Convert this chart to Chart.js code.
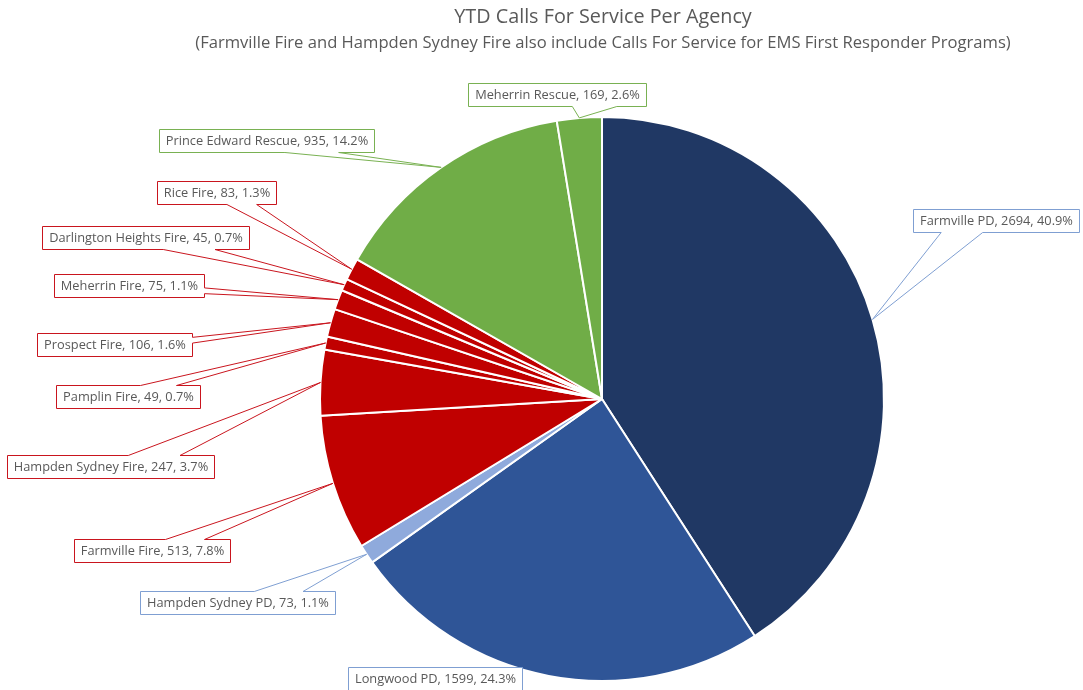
<!DOCTYPE html>
<html><head><meta charset="utf-8">
<script src="https://cdn.jsdelivr.net/npm/chart.js@4.4.1/dist/chart.umd.min.js"></script>
<style>html,body{margin:0;padding:0;background:#fff}#wrap{width:1083px;height:690px;position:relative}</style>
</head><body><div id="wrap"><canvas id="c" width="1083" height="690"></canvas></div>
<script>
// ---- data ----
const agencies = ["Farmville PD","Longwood PD","Hampden Sydney PD","Farmville Fire","Hampden Sydney Fire","Pamplin Fire","Prospect Fire","Meherrin Fire","Darlington Heights Fire","Rice Fire","Prince Edward Rescue","Meherrin Rescue"];
const calls = [2694,1599,73,513,247,49,106,75,45,83,935,169];
const groups = ["pd","pd","pd","fire","fire","fire","fire","fire","fire","fire","rescue","rescue"];
const titleText = "YTD Calls For Service Per Agency";
const subtitleText = "(Farmville Fire and Hampden Sydney Fire also include Calls For Service for EMS First Responder Programs)";

// ---- styles / layout ----
const sliceColors = ["#203864","#2F5597","#8FAADC","#C00000","#C00000","#C00000","#C00000","#C00000","#C00000","#C00000","#70AD47","#70AD47"];
const boxBorder = {pd:"#7F9FD2", fire:"#C9151E", rescue:"#79B152"};
const boxCenters = [[996,220],[435,678],[237,602],[152,550],[110,466],[128,396],[114,344],[129,285],[145,237],[216,192],[266,140],[557,94]];
const showWedge = [true,false,true,true,true,true,true,true,true,true,true,true];
const FONT = "'Open Sans', 'Noto Sans', sans-serif";
const textColor = "#595959";

const total = calls.reduce((a,b)=>a+b,0);

const calloutPlugin = {
  id: 'callouts',
  afterDraw(chart){
    const ctx = chart.ctx;
    ctx.save();
    // titles
    ctx.fillStyle = textColor;
    ctx.textAlign = 'center';
    ctx.textBaseline = 'middle';
    ctx.font = "19.8px " + FONT;
    ctx.fillText(titleText, 603, 17);
    ctx.font = "16.6px " + FONT;
    ctx.fillText(subtitleText, 603, 43);

    const meta = chart.getDatasetMeta(0);
    ctx.font = "12.8px " + FONT;
    ctx.lineWidth = 1;
    meta.data.forEach((arc, i) => {
      const p = arc.getProps(['x','y','startAngle','endAngle','outerRadius'], true);
      const a = (p.startAngle + p.endAngle)/2;
      const ax = p.x + Math.cos(a)*p.outerRadius, ay = p.y + Math.sin(a)*p.outerRadius;
      const pct = (calls[i]/total*100).toFixed(1) + "%";
      const text = agencies[i] + ", " + calls[i] + ", " + pct;
      const tw = ctx.measureText(text).width;
      const w = Math.round(tw + 13), h = 23;
      const cx = boxCenters[i][0], cy = boxCenters[i][1];
      const l = Math.round(cx - w/2) + 0.5, t = Math.round(cy - h/2) + 0.5, r = l + w, b = t + h;
      const dxPos = ax - cx, dyPos = ay - cy;
      const horiz = Math.abs(dxPos*h) > Math.abs(dyPos*w);
      const wedge = showWedge[i];
      ctx.beginPath();
      ctx.moveTo(l, t);
      if (wedge && !horiz && dyPos < 0) {
        const x1 = l + w*(dxPos>0?7:2)/12, x2 = l + w*(dxPos>0?10:5)/12;
        ctx.lineTo(x1, t); ctx.lineTo(ax, ay); ctx.lineTo(x2, t);
      }
      ctx.lineTo(r, t);
      if (wedge && horiz && dxPos > 0) {
        const y1 = t + h*(dyPos>0?7:2)/12, y2 = t + h*(dyPos>0?10:5)/12;
        ctx.lineTo(r, y1); ctx.lineTo(ax, ay); ctx.lineTo(r, y2);
      }
      ctx.lineTo(r, b);
      if (wedge && !horiz && dyPos > 0) {
        const x1 = l + w*(dxPos>0?7:2)/12, x2 = l + w*(dxPos>0?10:5)/12;
        ctx.lineTo(x2, b); ctx.lineTo(ax, ay); ctx.lineTo(x1, b);
      }
      ctx.lineTo(l, b);
      if (wedge && horiz && dxPos < 0) {
        const y1 = t + h*(dyPos>0?7:2)/12, y2 = t + h*(dyPos>0?10:5)/12;
        ctx.lineTo(l, y2); ctx.lineTo(ax, ay); ctx.lineTo(l, y1);
      }
      ctx.closePath();
      ctx.fillStyle = "#ffffff";
      ctx.fill();
      ctx.strokeStyle = boxBorder[groups[i]];
      ctx.stroke();
      ctx.fillStyle = textColor;
      ctx.textAlign = 'center';
      ctx.textBaseline = 'middle';
      ctx.fillText(text, (l + r)/2, (t + b)/2 + 0.5);
    });
    ctx.restore();
  }
};

new Chart(document.getElementById('c'), {
  type: 'pie',
  data: {
    labels: agencies,
    datasets: [{
      data: calls,
      backgroundColor: sliceColors,
      borderColor: '#ffffff',
      borderWidth: 2
    }]
  },
  options: {
    responsive: false,
    animation: false,
    devicePixelRatio: 1,
    layout: { padding: { left: 319, right: 198, top: 115, bottom: 7 } },
    plugins: { legend: { display: false }, tooltip: { enabled: false }, title: { display: false } }
  },
  plugins: [calloutPlugin]
});
</script>
</body></html>
